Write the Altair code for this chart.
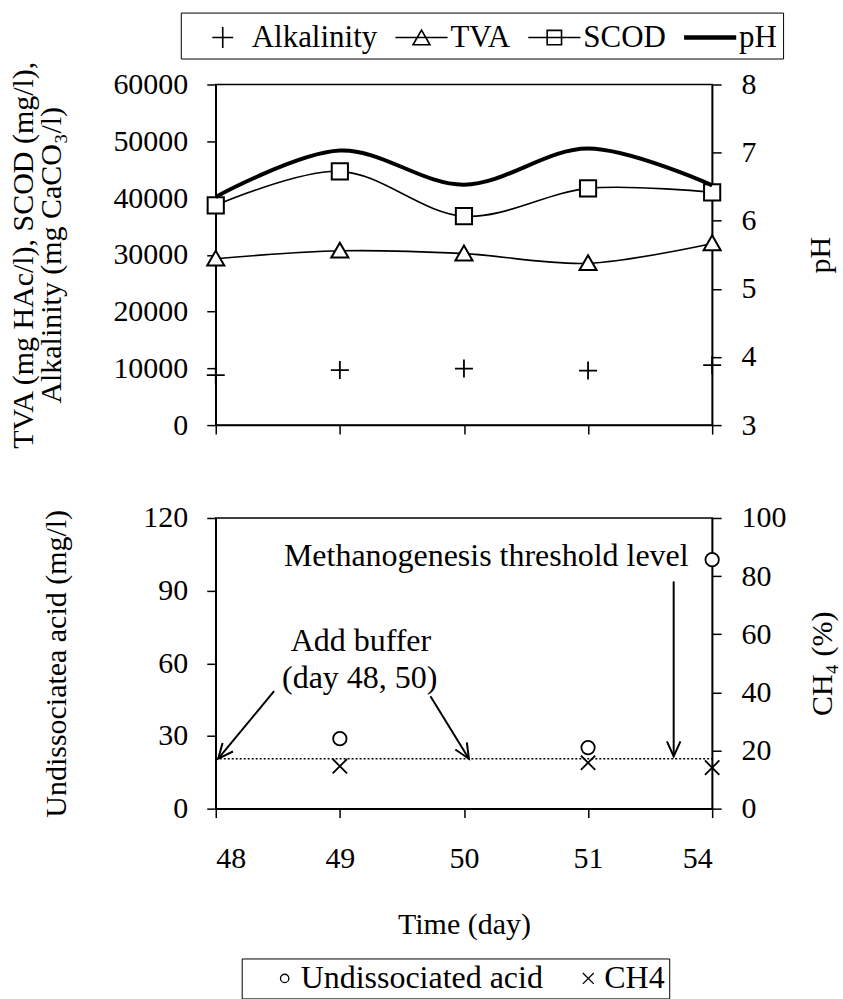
import json
import math
import altair as alt
import pandas as pd

# ---------------- data ----------------
days = ["48", "49", "50", "51", "54"]
alkalinity = [8800, 9700, 9950, 9600, 10550]
tva = [29300, 30700, 30200, 28500, 32000]
scod = [38700, 44700, 36800, 41700, 41000]
ph = [6.35, 7.03, 6.53, 7.06, 6.52]

acid_days = ["49", "51", "54"]
undissociated = [28.9, 25.2, 102.8]
ch4 = [14.6, 15.8, 14.1]
threshold = 20.6

top_series = ["Alkalinity", "TVA", "SCOD", "pH"]
bottom_series = ["Undissociated acid", "CH4"]

left_ticks_top = [0, 10000, 20000, 30000, 40000, 50000, 60000]
ph_ticks = [3, 4, 5, 6, 7, 8]
left_ticks_bot = [0, 30, 60, 90, 120]
ch4_ticks = [0, 20, 40, 60, 80, 100]

# annotations, in data units (x = day position index, y = undissociated acid mg/l)
note_text = ["Methanogenesis threshold level", "Add buffer", "(day 48, 50)"]
note_x = [2.18, 1.17, 1.16]
note_y = [104.4, 69.4, 54.1]
arrow_x1 = [0.47, 1.73, 3.69]
arrow_y1 = [48.5, 46.4, 93.8]
arrow_x2 = [0.02, 2.04, 3.69]
arrow_y2 = [20.6, 20.6, 21.6]

# ---------------- style ----------------
FONT = "Liberation Serif"
FS = 30
W, H1, H2 = 497, 341, 291
N = len(days)
idx = list(range(N))
label_expr = json.dumps(days) + "[datum.value]"

PLUS = "M -1 0 L 1 0 M 0 -1 L 0 1"
TRI = "M -0.95 0.75 L 0 -0.9 L 0.95 0.75 Z"
SQR = "M -0.9 -0.9 L 0.9 -0.9 L 0.9 0.9 L -0.9 0.9 Z"
XSH = "M -0.8 -0.8 L 0.8 0.8 M -0.8 0.8 L 0.8 -0.8"
VHEAD = "M -0.45 -1 L 0 0 L 0.45 -1"

L_PLUS = "M -0.58 0 L 0.58 0 M 0 -0.58 L 0 0.58"
L_TRI = "M -1.45 0 L 1.45 0 M -0.47 0.4 L 0 -0.42 L 0.47 0.4 Z"
L_SQR = "M -1.45 0 L 1.45 0 M -0.4 -0.4 L 0.4 -0.4 L 0.4 0.4 L -0.4 0.4 Z"
L_PH = "M -1.45 -0.08 L 1.45 -0.08 M -1.45 0 L 1.45 0 M -1.45 0.08 L 1.45 0.08"
B_X = "M -1.3 -1.3 L 1.3 1.3 M -1.3 1.3 L 1.3 -1.3"

xscale = alt.Scale(domain=[0, N - 1], nice=False, zero=False)


def xenc(field, show_labels):
    if show_labels:
        ax = alt.Axis(values=idx, labelExpr=label_expr, title="Time (day)",
                      tickSize=9, labelPadding=26, titlePadding=36, grid=False)
    else:
        ax = alt.Axis(values=idx, labels=False, title=None, tickSize=9, grid=False)
    return alt.X(f"{field}:Q", scale=xscale, axis=ax)


# ---------------- top panel ----------------
top_df = pd.DataFrame({"i": idx, "Alkalinity": alkalinity, "TVA": tva,
                       "SCOD": scod, "pH": ph})

axis_top_left = alt.Axis(orient="left", values=left_ticks_top, format="d",
                         title=["TVA (mg HAc/l), SCOD (mg/l),", "Alkalinity (mg CaCO₃/l)"],
                         titleX=-192, titleBaseline="middle", titleLineHeight=28,
                         tickSize=9, labelPadding=19, grid=False)
scale_top_left = alt.Scale(domain=[0, 60000], nice=False, zero=True)


def ytop(field):
    return alt.Y(f"{field}:Q", scale=scale_top_left, axis=axis_top_left)


base_top = alt.Chart(top_df)
tva_line = base_top.mark_line(interpolate="catmull-rom", color="black", strokeWidth=1.6).encode(
    x=xenc("i", False), y=ytop("TVA"))
scod_line = base_top.mark_line(interpolate="catmull-rom", color="black", strokeWidth=1.6).encode(
    x=xenc("i", False), y=ytop("SCOD"))
alk_pts = base_top.mark_point(shape=PLUS, size=324, filled=False, color="black",
                              strokeWidth=1.8, opacity=1).encode(x=xenc("i", False), y=ytop("Alkalinity"))
tva_pts = base_top.mark_point(shape=TRI, size=324, filled=True, fill="white", stroke="black",
                              strokeWidth=2, opacity=1).encode(x=xenc("i", False), y=ytop("TVA"))
scod_pts = base_top.mark_point(shape=SQR, size=324, filled=True, fill="white", stroke="black",
                               strokeWidth=2, opacity=1).encode(x=xenc("i", False), y=ytop("SCOD"))

legend_top_df = pd.DataFrame({"series_top": top_series})
legend_top = alt.Chart(legend_top_df).transform_filter("false").mark_point(
    filled=False, color="black", strokeWidth=1.6, opacity=1).encode(
    shape=alt.Shape("series_top:N",
                    scale=alt.Scale(domain=top_series, range=[L_PLUS, L_TRI, L_SQR, L_PH]),
                    legend=alt.Legend(title=None, orient="none", legendX=-35, legendY=-72,
                                      direction="horizontal", columns=4, symbolSize=1296,
                                      symbolStrokeWidth=1.6, symbolStrokeColor="black",
                                      labelFont=FONT, labelFontSize=31, labelColor="black",
                                      labelOffset=10, columnPadding=8, strokeColor="black",
                                      padding=6, symbolOffset=17, labelLimit=300)))

ph_line = base_top.mark_line(interpolate="catmull-rom", color="black", strokeWidth=4).encode(
    x=xenc("i", False),
    y=alt.Y("pH:Q", scale=alt.Scale(domain=[3, 8], nice=False, zero=False),
            axis=alt.Axis(orient="right", values=ph_ticks, title="pH", titleAngle=270,
                          titleX=108, titleBaseline="middle", tickSize=9, labelPadding=20,
                          grid=False)))

top = alt.layer(
    alt.layer(tva_line, scod_line, alk_pts, tva_pts, scod_pts, legend_top),
    ph_line,
).resolve_scale(y="independent").properties(width=W, height=H1)

# ---------------- bottom panel ----------------
bot_df = pd.DataFrame({"i": [days.index(d) for d in acid_days],
                       "acid": undissociated, "ch4": ch4})

axis_bot_left = alt.Axis(orient="left", values=left_ticks_bot, title="Undissociatea acid (mg/l)",
                         titleX=-159, titleBaseline="middle", tickSize=9, labelPadding=19,
                         grid=False)
scale_bot_left = alt.Scale(domain=[0, 120], nice=False, zero=True)


def ybot(field):
    return alt.Y(f"{field}:Q", scale=scale_bot_left, axis=axis_bot_left)


thr_df = pd.DataFrame({"x0": [0], "x1": [N - 1], "thr": [threshold]})
thr_line = alt.Chart(thr_df).mark_rule(color="black", strokeWidth=1.5, strokeDash=[2, 2]).encode(
    x=xenc("x0", True), x2="x1:Q", y=ybot("thr"))


def head_angle(x1, y1, x2, y2):
    dx = (x2 - x1) * W / (N - 1)
    dy = -(y2 - y1) * H2 / 120.0
    return math.degrees(math.atan2(-dx, dy)) % 360


arrow_df = pd.DataFrame({"ax1": arrow_x1, "ay1": arrow_y1, "ax2": arrow_x2, "ay2": arrow_y2,
                         "ang": [head_angle(a, b, c, d) for a, b, c, d in
                                 zip(arrow_x1, arrow_y1, arrow_x2, arrow_y2)]})
shafts = alt.Chart(arrow_df).mark_rule(color="black", strokeWidth=2).encode(
    x=xenc("ax1", True), x2="ax2:Q", y=ybot("ay1"), y2="ay2:Q")
heads = alt.Chart(arrow_df).mark_point(shape=VHEAD, size=900, filled=False, color="black",
                                       strokeWidth=2, opacity=1).encode(
    x=xenc("ax2", True), y=ybot("ay2"), angle=alt.Angle("ang:Q", scale=None))

note_df = pd.DataFrame({"t": note_text, "nx": note_x, "ny": note_y})
notes = alt.Chart(note_df).mark_text(font=FONT, fontSize=32, color="black", align="center",
                                     baseline="middle").encode(
    x=xenc("nx", True), y=ybot("ny"), text="t:N")

acid_pts = alt.Chart(bot_df).mark_point(shape="circle", size=180, filled=True, fill="white",
                                        stroke="black", strokeWidth=1.8, opacity=1).encode(
    x=xenc("i", True), y=ybot("acid"))

legend_bot_df = pd.DataFrame({"series_bot": bottom_series})
legend_bot = alt.Chart(legend_bot_df).transform_filter("false").mark_point(
    filled=False, color="black", strokeWidth=1.3, opacity=1).encode(
    shape=alt.Shape("series_bot:N",
                    scale=alt.Scale(domain=bottom_series, range=["circle", B_X]),
                    legend=alt.Legend(title=None, orient="none", legendX=26, legendY=441,
                                      direction="horizontal", columns=2, symbolSize=70,
                                      symbolStrokeWidth=1.3, symbolStrokeColor="black",
                                      labelFont=FONT, labelFontSize=32, labelColor="black",
                                      labelOffset=0, columnPadding=6, strokeColor="black",
                                      padding=4, symbolOffset=23, labelLimit=400,
                                      labelExpr="datum.label == 'CH4' ? 'CH4\u00a0\u00a0' : datum.label")))

ch4_pts = alt.Chart(bot_df).mark_point(shape=XSH, size=324, filled=False, color="black",
                                       strokeWidth=1.8, opacity=1).encode(
    x=xenc("i", True),
    y=alt.Y("ch4:Q", scale=alt.Scale(domain=[0, 100], nice=False, zero=True),
            axis=alt.Axis(orient="right", values=ch4_ticks, title="CH₄ (%)", titleAngle=270,
                          titleX=110, titleBaseline="middle", tickSize=9, labelPadding=20,
                          grid=False)))

bottom = alt.layer(
    alt.layer(thr_line, shafts, heads, notes, acid_pts, legend_bot),
    ch4_pts,
).resolve_scale(y="independent").properties(width=W, height=H2)

chart = alt.vconcat(top, bottom, spacing=93, bounds="flush").resolve_scale(
    shape="independent").resolve_legend(shape="independent").configure(
    padding={"left": 8, "top": 10, "right": 5, "bottom": 0}, background="white",
    font=FONT).configure_view(stroke="black", strokeWidth=1.5).configure_axis(
    domainColor="black", domainWidth=1.5, tickColor="black", tickWidth=1.5,
    labelFont=FONT, labelFontSize=FS, labelColor="black",
    titleFont=FONT, titleFontSize=FS, titleFontWeight="normal", titleColor="black")

chart.save("out.html", embed_options={"renderer": "svg", "actions": False})
